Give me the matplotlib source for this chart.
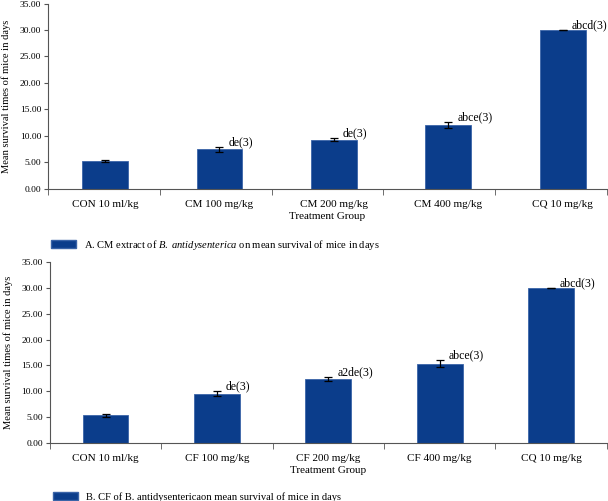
import numpy as np
import matplotlib.pyplot as plt
from matplotlib.patches import Patch
from matplotlib.ticker import FormatStrFormatter

plt.rcParams['font.family'] = 'Liberation Serif'
plt.rcParams['mathtext.fontset'] = 'custom'
plt.rcParams['mathtext.it'] = 'Liberation Serif:italic'
plt.rcParams['mathtext.rm'] = 'Liberation Serif'

groups_a = ["CON 10 ml/kg", "CM 100 mg/kg", "CM 200 mg/kg", "CM 400 mg/kg", "CQ 10 mg/kg"]
means_a = [5.3, 7.5, 9.3, 12.1, 30.0]
errs_a = [0.2, 0.5, 0.3, 0.6, 0.0]
notes_a = ["", "de(3)", "de(3)", "abce(3)", "abcd(3)"]

groups_b = ["CON 10 ml/kg", "CF 100 mg/kg", "CF 200 mg/kg", "CF 400 mg/kg", "CQ 10 mg/kg"]
means_b = [5.3, 9.5, 12.3, 15.3, 30.0]
errs_b = [0.2, 0.5, 0.4, 0.7, 0.0]
notes_b = ["", "de(3)", "a2de(3)", "abce(3)", "abcd(3)"]

legend_a = r"A. CM extract of $\it{B.\ antidysenterica}$ on mean survival of mice in days"
legend_b = "B. CF of B. antidysentericaon mean survival of mice in days"

bar_color = '#0b3d8b'
edge_color = '#3a64a8'
axis_color = '#555555'

fig = plt.figure(figsize=(6.08, 5.01), dpi=100)
ax1 = fig.add_axes([0.079, 0.623, 0.919, 0.370])
ax2 = fig.add_axes([0.082, 0.116, 0.916, 0.361])


def draw(ax, groups, means, errs, notes, label, step, shift, leg_y):
    x = shift + step * np.arange(len(groups))
    ax.bar(x, means, width=0.41, color=bar_color, edgecolor=edge_color, linewidth=0.6,
           yerr=errs, capsize=3, error_kw=dict(elinewidth=0.9, capthick=0.9, ecolor='black'))
    for xi, m, e, t in zip(x, means, errs, notes):
        if t:
            ax.text(xi + 0.08, m + e + 0.3, t, fontsize=8.5, va='baseline', ha='left')
    ax.set_xlim(-0.5, len(groups) - 0.5)
    ax.set_ylim(0, 35)
    ax.set_yticks(np.arange(0, 36, 5))
    ax.yaxis.set_major_formatter(FormatStrFormatter('%.2f'))
    ax.set_xticks(x)
    ax.set_xticklabels(groups)
    ax.set_xticks(np.arange(-0.5, len(groups)), minor=True)
    ax.tick_params(axis='x', which='major', length=0, labelsize=8, pad=8)
    ax.tick_params(axis='x', which='minor', length=4, color=axis_color)
    ax.tick_params(axis='y', length=3, labelsize=6.8, color=axis_color, pad=2)
    for s in ['top', 'right']:
        ax.spines[s].set_visible(False)
    for s in ['left', 'bottom']:
        ax.spines[s].set_color(axis_color)
        ax.spines[s].set_linewidth(0.8)
    ax.set_ylabel("Mean survival times of mice in days", fontsize=7.6)
    ax.yaxis.set_label_coords(-0.066, 0.5)
    ax.set_xlabel("Treatment Group", fontsize=8, labelpad=2)
    ax.legend(handles=[Patch(facecolor=bar_color, edgecolor=edge_color, label=label)],
              loc='upper left', bbox_to_anchor=(-0.002, leg_y), frameon=False,
              fontsize=7.6, handlelength=2.4, handleheight=0.8, handletextpad=0.7,
              borderaxespad=0)


draw(ax1, groups_a, means_a, errs_a, notes_a, legend_a, 1.024, 0.01, -0.24)
draw(ax2, groups_b, means_b, errs_b, notes_b, legend_b, 1.0, 0.0, -0.25)

fig.savefig('out.png', dpi=100)
